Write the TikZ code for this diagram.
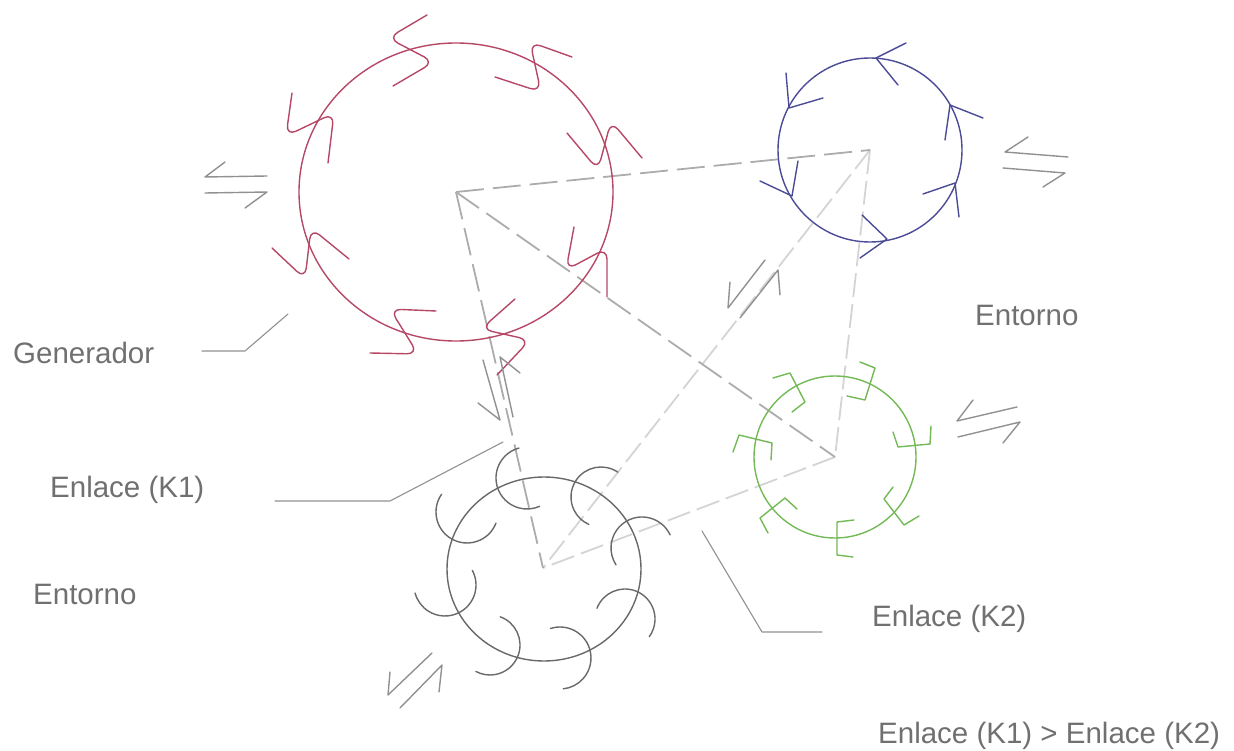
\documentclass[tikz,border=0pt]{standalone}
\usepackage{fontspec}
\setmainfont{Liberation Sans}
\definecolor{txt}{RGB}{112,112,112}
\definecolor{redc}{RGB}{182,72,102}
\definecolor{bluec}{RGB}{75,75,150}
\definecolor{greenc}{RGB}{115,185,85}
\definecolor{blackc}{RGB}{105,105,105}
\definecolor{lead}{RGB}{145,145,145}
\definecolor{edgedark}{RGB}{172,172,172}
\definecolor{edgelight}{RGB}{212,212,212}
\begin{document}
\begin{tikzpicture}[x=1pt,y=-1pt,line cap=round,line join=round,
  lbl/.style={anchor=base west,inner sep=0pt,text=txt,font=\fontsize{29.5}{34}\selectfont},
  leader/.style={draw=lead,line width=1.1pt},
  harp/.style={draw=lead,line width=1.4pt},
  edgedk/.style={draw=edgedark,line width=1.8pt,line cap=butt,dash pattern=on 28pt off 9pt},
  edgelt/.style={draw=edgelight,line width=1.8pt,line cap=butt,dash pattern=on 24pt off 7pt},
  redline/.style={draw=redc,line width=1.4pt},
  redS/.style={draw=redc,line width=1.4pt,rounded corners=11pt},
  blueline/.style={draw=bluec,line width=1.4pt},
  greenline/.style={draw=greenc,line width=1.4pt},
  blackline/.style={draw=blackc,line width=1.4pt}]
\useasboundingbox (0,0) rectangle (1234,751);
% vertices
\coordinate (A) at (456,192);
\coordinate (B) at (870,150);
\coordinate (C) at (835,457);
\coordinate (D) at (543,568);
% tetrahedron edges
\draw[edgelt] (B) -- (C);
\draw[edgelt] (B) -- (D);
\draw[edgelt] (C) -- (D);
\draw[edgedk] (A) -- (B);
\draw[edgedk] (A) -- (C);
\draw[edgedk] (A) -- (D);
% red circle (Generador)
\draw[redline] (A) ellipse [x radius=157,y radius=149];
\draw[redS] (427,15) -- (388,38) -- (434,62) -- (393,86);
\draw[redS] (572,57) -- (530,42) -- (541,92) -- (495,77);
\draw[redS] (567,133) -- (598,170) -- (611,121) -- (642,158);
\draw[redS] (574,227) -- (566,270) -- (607,248) -- (607,297);
\draw[redS] (515,299) -- (481,329) -- (530,340) -- (497,375);
\draw[redS] (436,311) -- (390,309) -- (418,354) -- (370,353);
\draw[redS] (349,259) -- (311,228) -- (305,279) -- (272,248);
\draw[redS] (328,163) -- (334,113) -- (286,136) -- (292,93);
% blue circle
\draw[blueline] (B) circle [radius=92];
\draw[blueline] (906,43) -- (876,58) -- (898,85);
\draw[blueline] (786,73) -- (789,108) -- (823,98);
\draw[blueline] (760,181) -- (792,196) -- (798,161);
\draw[blueline] (862,215) -- (887,239) -- (860,258);
\draw[blueline] (923,194) -- (955,183) -- (959,217);
\draw[blueline] (983,118) -- (950,105) -- (945,140);
% green circle
\draw[greenline] (C) circle [radius=81];
\draw[greenline] (773,378) -- (790,373) -- (805,402) -- (792,412);
\draw[greenline] (860,362) -- (875,368) -- (865,400) -- (847,396);
\draw[greenline] (893,432) -- (898,447) -- (930,444) -- (931,426);
\draw[greenline] (893,487) -- (884,499) -- (904,525) -- (919,516);
\draw[greenline] (854,520) -- (837,522) -- (837,555) -- (853,557);
\draw[greenline] (797,509) -- (785,498) -- (760,518) -- (768,533);
\draw[greenline] (733,452) -- (739,435) -- (772,443) -- (771,460);
% black circle
\draw[blackline] (544,569) ellipse [x radius=97,y radius=92];
\draw[blackline] (527,478) ++(-105:31) arc [start angle=-105,end angle=-294,radius=31];
\draw[blackline] (467,512) ++(-145:31) arc [start angle=-145,end angle=-339,radius=31];
\draw[blackline] (601,497) ++(-56:30) arc [start angle=-56,end angle=-246,radius=30];
\draw[blackline] (642,548) ++(-25:31) arc [start angle=-25,end angle=-213,radius=31];
\draw[blackline] (445,585) ++(-28:31) arc [start angle=-28,end angle=165,radius=31];
\draw[blackline] (625,619) ++(-159:30) arc [start angle=-159,end angle=36,radius=30];
\draw[blackline] (490,645) ++(-70:30) arc [start angle=-70,end angle=118,radius=30];
\draw[blackline] (560,658) ++(-108:31) arc [start angle=-108,end angle=84,radius=31];
% harpoons
\draw[harp] (225,162) -- (205,177) -- (267,176);
\draw[harp] (205,193) -- (267,192) -- (245,208);
\draw[harp] (1028,137) -- (1005,152) -- (1068,157);
\draw[harp] (1003,168) -- (1065,173) -- (1043,187);
\draw[harp] (973,400) -- (957,421) -- (1017,407);
\draw[harp] (958,437) -- (1020,422) -- (1003,443);
\draw[harp] (390,672) -- (388,695) -- (432,653);
\draw[harp] (400,708) -- (442,665) -- (439,692);
\draw[harp] (730,282) -- (728,308) -- (765,260);
\draw[harp] (740,318) -- (778,270) -- (780,295);
\draw[harp] (483,360) -- (500,420) -- (478,403);
\draw[harp] (520,373) -- (500,357) -- (513,417);
% labels
\node[lbl] (gen) at (13,363) {Generador};
\node[lbl] (k1) at (50,497) {Enlace (K1)};
\node[lbl] (ent1) at (33,604) {Entorno};
\node[lbl] (ent2) at (975,326) {Entorno};
\node[lbl] (k2) at (872,626) {Enlace (K2)};
\node[lbl] (cmp) at (878,743) {Enlace (K1) > Enlace (K2)};
% leader lines
\coordinate (g1) at (202,351);
\coordinate (g2) at (288,314);
\draw[leader] (g1) -- (245,351) -- (g2);
\coordinate (l1) at (275,501);
\coordinate (l2) at (503,442);
\draw[leader] (l1) -- (390,501) -- (l2);
\coordinate (m1) at (702,531);
\coordinate (m2) at (822,632);
\draw[leader] (m1) -- (762,632) -- (m2);
\end{tikzpicture}
\end{document}
